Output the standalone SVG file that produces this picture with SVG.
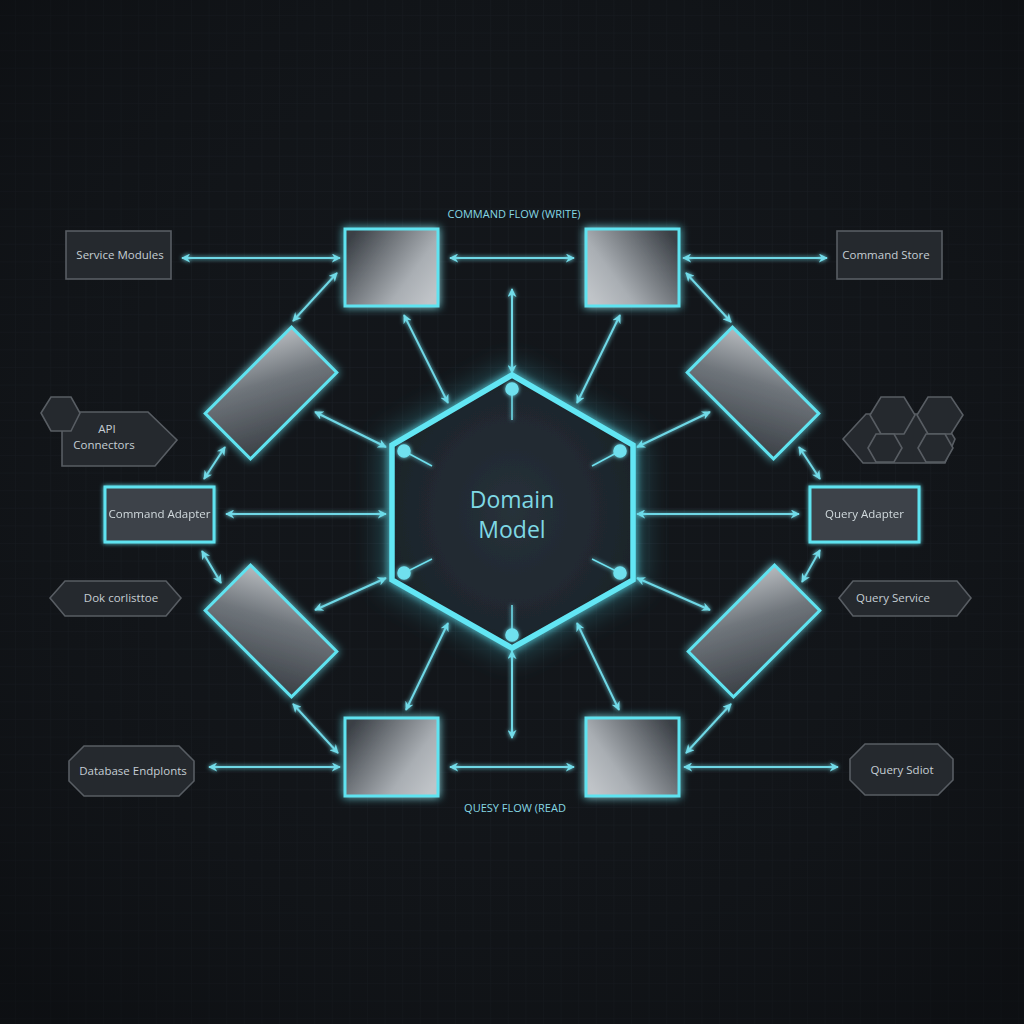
<svg xmlns="http://www.w3.org/2000/svg" width="1024" height="1024" viewBox="0 0 1024 1024">
<defs>
<pattern id="grid" width="17.6" height="17.6" patternUnits="userSpaceOnUse" x="15" y="15">
<path d="M17.6 0H0V17.6" fill="none" stroke="#1d2229" stroke-width="1"/>
</pattern>
<radialGradient id="bgv" cx="0.5" cy="0.45" r="0.7">
<stop offset="0" stop-color="#1a1f24" stop-opacity="0"/>
<stop offset="1" stop-color="#0b0d10" stop-opacity="0.7"/>
</radialGradient>
<linearGradient id="gR" x1="0" y1="0.2" x2="1" y2="0.8">
<stop offset="0" stop-color="#3a3f45"/>
<stop offset="0.7" stop-color="#a9aeb3"/>
<stop offset="1" stop-color="#c0c4c8"/>
</linearGradient>
<linearGradient id="gL" x1="1" y1="0.2" x2="0" y2="0.8">
<stop offset="0" stop-color="#3a3f45"/>
<stop offset="0.7" stop-color="#a9aeb3"/>
<stop offset="1" stop-color="#c0c4c8"/>
</linearGradient>
<linearGradient id="gD1" x1="0" y1="1" x2="1" y2="0">
<stop offset="0" stop-color="#3b4046"/>
<stop offset="0.6" stop-color="#6f757b"/>
<stop offset="1" stop-color="#b6babe"/>
</linearGradient>
<linearGradient id="gD2" x1="1" y1="1" x2="0" y2="0">
<stop offset="0" stop-color="#3b4046"/>
<stop offset="0.6" stop-color="#6f757b"/>
<stop offset="1" stop-color="#b6babe"/>
</linearGradient>
<radialGradient id="hexfill" cx="0.5" cy="0.5" r="0.6">
<stop offset="0" stop-color="#27313a"/>
<stop offset="1" stop-color="#1b2228"/>
</radialGradient>
<filter id="glow" x="-30%" y="-30%" width="160%" height="160%">
<feGaussianBlur in="SourceGraphic" stdDeviation="4" result="b"/>
<feMerge><feMergeNode in="b"/><feMergeNode in="SourceGraphic"/></feMerge>
</filter>
<filter id="glowS" x="-30%" y="-30%" width="160%" height="160%">
<feGaussianBlur in="SourceGraphic" stdDeviation="2" result="b"/>
<feMerge><feMergeNode in="b"/><feMergeNode in="SourceGraphic"/></feMerge>
</filter>
<filter id="bigglow" x="-50%" y="-50%" width="200%" height="200%">
<feGaussianBlur stdDeviation="14"/>
</filter>
<marker id="ah" viewBox="0 0 10 10" refX="9" refY="5" markerWidth="9" markerHeight="9" markerUnits="userSpaceOnUse" orient="auto-start-reverse">
<path d="M0 0L10 5L0 10L3 5Z" fill="#72dbe8"/>
</marker>
<style>
.conn line{stroke:#6fd8e6;stroke-width:2;marker-start:url(#ah);marker-end:url(#ah)}
.sq{stroke:#5fe3f0;stroke-width:3}
.gbox{fill:#25292e;stroke:#585d63;stroke-width:1.6}
.glabel{font-family:"Open Sans","Liberation Sans",sans-serif;font-size:11.5px;fill:#c6ced4;text-anchor:middle}
.clabel{font-family:"Open Sans","Liberation Sans",sans-serif;font-size:11.5px;fill:#d2dade;text-anchor:middle}
.title{font-family:"Open Sans","Liberation Sans",sans-serif;font-size:11px;fill:#86d8e4;text-anchor:middle}
.big{font-family:"Open Sans","Liberation Sans",sans-serif;font-size:23px;fill:#7fd8e4;text-anchor:middle}
</style>
</defs>
<rect width="1024" height="1024" fill="#121519"/>
<rect width="1024" height="1024" fill="url(#grid)"/>
<rect width="1024" height="1024" fill="url(#bgv)"/>

<text class="title" x="514" y="218">COMMAND FLOW (WRITE)</text>
<text class="title" x="515" y="812">QUESY FLOW (READ</text>

<g id="connectors" class="conn" filter="url(#glowS)">
<line x1="182" y1="258" x2="340" y2="258"/>
<line x1="450" y1="258" x2="574" y2="258"/>
<line x1="683" y1="258" x2="827" y2="258"/>
<line x1="209" y1="767" x2="340" y2="767"/>
<line x1="450" y1="767" x2="574" y2="767"/>
<line x1="684" y1="767" x2="838" y2="767"/>
<line x1="512" y1="289" x2="512" y2="373"/>
<line x1="512" y1="651" x2="512" y2="738"/>
<line x1="404" y1="315" x2="448" y2="403"/>
<line x1="620" y1="315" x2="577" y2="403"/>
<line x1="448" y1="623" x2="406" y2="710"/>
<line x1="577" y1="623" x2="619" y2="710"/>
<line x1="226" y1="514" x2="386" y2="514"/>
<line x1="637" y1="514" x2="799" y2="514"/>
<line x1="386" y1="447" x2="315" y2="412"/>
<line x1="637" y1="447" x2="710" y2="412"/>
<line x1="386" y1="578" x2="315" y2="610"/>
<line x1="637" y1="578" x2="710" y2="610"/>
<line x1="293" y1="321" x2="337" y2="273"/>
<line x1="225" y1="447" x2="204" y2="479"/>
<line x1="686" y1="273" x2="731" y2="322"/>
<line x1="799" y1="447" x2="820" y2="479"/>
<line x1="202" y1="551" x2="221" y2="583"/>
<line x1="293" y1="704" x2="338" y2="753"/>
<line x1="820" y1="550" x2="802" y2="582"/>
<line x1="731" y1="704" x2="686" y2="753"/>
</g>

<g id="domain-model">
<polygon points="512,375 633,445 633,580 512,648 392,580 392,445" fill="none" stroke="#4fd6ea" stroke-width="14" opacity="0.45" filter="url(#bigglow)"/>
<polygon points="512,375 633,445 633,580 512,648 392,580 392,445" fill="url(#hexfill)" stroke="#62e6f4" stroke-width="5.5" stroke-linejoin="miter" filter="url(#glow)"/>
<g stroke="#6fe0ee" stroke-width="1.5" fill="#6fe0ee" filter="url(#glowS)">
<line x1="512" y1="389" x2="512" y2="420"/><circle cx="512" cy="389" r="6"/>
<line x1="404" y1="451" x2="432" y2="466"/><circle cx="404" cy="451" r="6"/>
<line x1="620" y1="451" x2="592" y2="466"/><circle cx="620" cy="451" r="6"/>
<line x1="404" y1="573" x2="432" y2="559"/><circle cx="404" cy="573" r="6"/>
<line x1="620" y1="573" x2="592" y2="559"/><circle cx="620" cy="573" r="6"/>
<line x1="512" y1="635" x2="512" y2="605"/><circle cx="512" cy="635" r="6"/>
</g>
<text class="big" x="512" y="508">Domain</text>
<text class="big" x="512" y="538">Model</text>
</g>

<g id="cmd-square-left" filter="url(#glow)"><rect class="sq" x="345" y="229" width="93" height="77" fill="url(#gR)"/></g>
<g id="cmd-square-right" filter="url(#glow)"><rect class="sq" x="586" y="229" width="93" height="77" fill="url(#gL)"/></g>
<g id="qry-square-left" filter="url(#glow)"><rect class="sq" x="345" y="718" width="93" height="78" fill="url(#gR)"/></g>
<g id="qry-square-right" filter="url(#glow)"><rect class="sq" x="586" y="718" width="93" height="78" fill="url(#gL)"/></g>

<g id="rot-upper-left" filter="url(#glow)"><rect class="sq" x="-61" y="-32" width="122" height="64" fill="url(#gD1)" transform="translate(271 393) rotate(-45)"/></g>
<g id="rot-upper-right" filter="url(#glow)"><rect class="sq" x="-61" y="-32" width="122" height="64" fill="url(#gD2)" transform="translate(753 393) rotate(45)"/></g>
<g id="rot-lower-left" filter="url(#glow)"><rect class="sq" x="-61" y="-32" width="122" height="64" fill="url(#gD2)" transform="translate(271 631) rotate(45)"/></g>
<g id="rot-lower-right" filter="url(#glow)"><rect class="sq" x="-61" y="-32" width="122" height="64" fill="url(#gD1)" transform="translate(754 631) rotate(-45)"/></g>

<g id="command-adapter" filter="url(#glowS)">
<rect class="sq" x="105" y="487" width="109" height="55" fill="#3c4248"/>
<text class="clabel" x="159.5" y="518">Command Adapter</text>
</g>
<g id="query-adapter" filter="url(#glowS)">
<rect class="sq" x="810" y="487" width="109" height="55" fill="#3c4248"/>
<text class="clabel" x="864.5" y="518">Query Adapter</text>
</g>

<g id="service-modules">
<rect class="gbox" x="66" y="231" width="105" height="48"/>
<text class="glabel" x="120" y="259">Service Modules</text>
</g>
<g id="command-store">
<rect class="gbox" x="837" y="231" width="105" height="48"/>
<text class="glabel" x="886" y="259">Command Store</text>
</g>
<g id="api-connectors">
<polygon class="gbox" points="62,412 148,412 177,440 155,466 62,466"/>
<polygon class="gbox" points="41,413 51,397 71,397 80,413 71,431 51,431"/>
<text class="glabel" x="107" y="433">API</text>
<text class="glabel" x="104" y="449">Connectors</text>
</g>
<g id="hex-cluster">
<polygon class="gbox" points="843,439 866,414 940,414 955,439 945,463 863,463"/>
<polygon class="gbox" points="870,415 881,397 904,397 915,415 904,434 881,434"/>
<polygon class="gbox" points="917,415 928,397 951,397 963,415 951,434 928,434"/>
<polygon class="gbox" points="868,448 876,434 894,434 902,448 894,462 876,462"/>
<polygon class="gbox" points="918,448 926,434 945,434 953,448 945,462 926,462"/>
</g>
<g id="dok-corlisttoe">
<polygon class="gbox" points="50,598 65,581 166,581 181,598 166,616 65,616"/>
<text class="glabel" x="121" y="602">Dok corlisttoe</text>
</g>
<g id="query-service">
<polygon class="gbox" points="839,598 853,581 957,581 971,598 957,616 853,616"/>
<text class="glabel" x="893" y="602">Query Service</text>
</g>
<g id="database-endpoints">
<polygon class="gbox" points="84,746 179,746 194,761 194,781 179,796 84,796 69,781 69,761"/>
<text class="glabel" x="133" y="775">Database Endplonts</text>
</g>
<g id="query-sdiot">
<polygon class="gbox" points="865,744 938,744 953,759 953,780 938,795 865,795 850,780 850,759"/>
<text class="glabel" x="902" y="774">Query Sdiot</text>
</g>
</svg>
